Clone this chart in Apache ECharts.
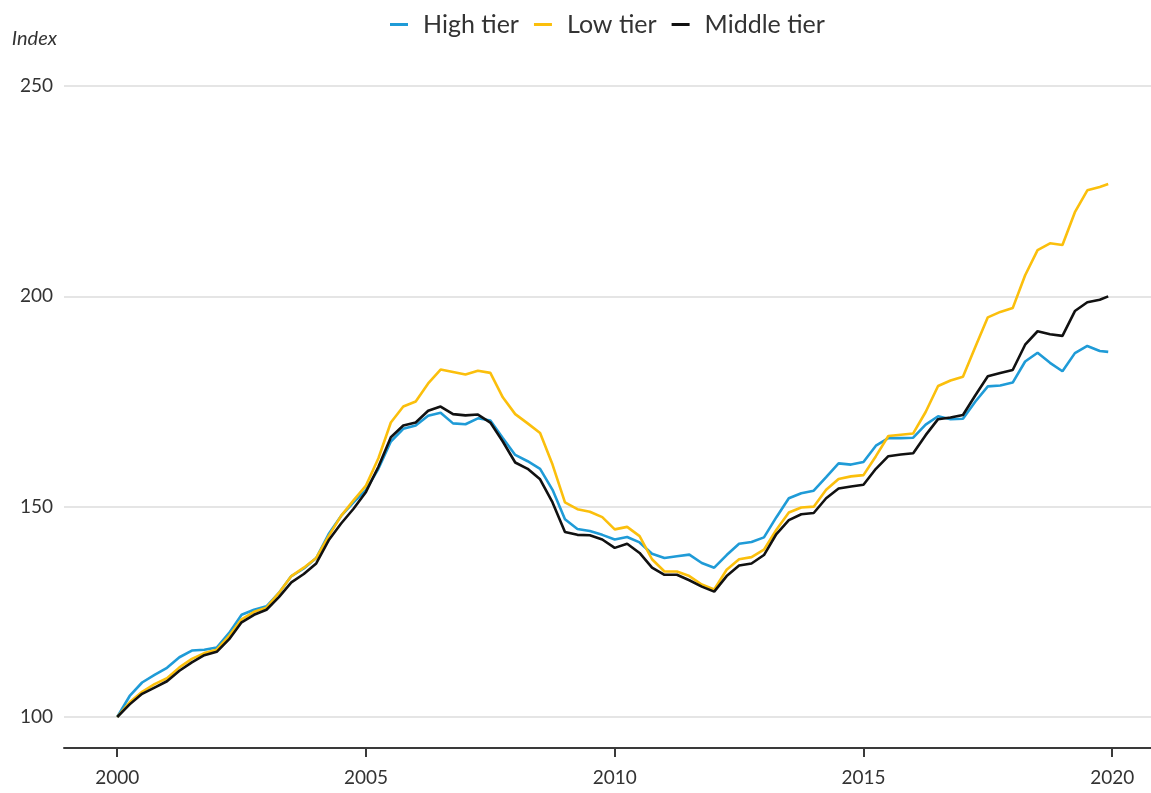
<!DOCTYPE html>
<html>
<head>
<meta charset="utf-8">
<script src="https://cdn.jsdelivr.net/npm/echarts@6/dist/echarts.min.js"></script>
<style>
  html, body { margin: 0; padding: 0; background: #fff; }
  #chart { width: 1151px; height: 793px; }
</style>
</head>
<body>
<div id="chart"></div>
<script>
// quarterly time points (decimal years)
const years = [
  2000.00, 2000.25, 2000.50, 2000.75, 2001.00, 2001.25, 2001.50, 2001.75,
  2002.00, 2002.25, 2002.50, 2002.75, 2003.00, 2003.25, 2003.50, 2003.75,
  2004.00, 2004.25, 2004.50, 2004.75, 2005.00, 2005.25, 2005.50, 2005.75,
  2006.00, 2006.25, 2006.50, 2006.75, 2007.00, 2007.25, 2007.50, 2007.75,
  2008.00, 2008.25, 2008.50, 2008.75, 2009.00, 2009.25, 2009.50, 2009.75,
  2010.00, 2010.25, 2010.50, 2010.75, 2011.00, 2011.25, 2011.50, 2011.75,
  2012.00, 2012.25, 2012.50, 2012.75, 2013.00, 2013.25, 2013.50, 2013.75,
  2014.00, 2014.25, 2014.50, 2014.75, 2015.00, 2015.25, 2015.50, 2015.75,
  2016.00, 2016.25, 2016.50, 2016.75, 2017.00, 2017.25, 2017.50, 2017.75,
  2018.00, 2018.25, 2018.50, 2018.75, 2019.00, 2019.25, 2019.50, 2019.75,
  2019.92
];

const highTier = [
  100, 105, 108.2, 110, 111.7, 114.2, 115.8, 116,
  116.5, 120, 124.3, 125.5, 126.3, 129.5, 133.5, 135.3,
  137.8, 143.5, 147.8, 151, 154, 159, 165.5, 168.5,
  169.3, 171.6, 172.3, 169.8, 169.6, 171, 170.5, 166.3,
  162.3, 160.8, 159, 154, 147, 144.7, 144.2, 143.3,
  142.2, 142.8, 141.5, 138.8, 137.8, 138.2, 138.6, 136.6,
  135.5, 138.5, 141.2, 141.6, 142.7, 147.5, 152, 153.2,
  153.8, 157, 160.3, 160, 160.6, 164.5, 166.3, 166.3,
  166.4, 169.5, 171.5, 170.8, 170.9, 175, 178.6, 178.8,
  179.5, 184.5, 186.6, 184.2, 182.2, 186.5, 188.2, 187,
  186.8
];

const lowTier = [
  100, 103.5, 106, 107.8, 109.2, 111.8, 113.8, 115.2,
  116, 119.3, 123.2, 125, 126, 129.5, 133.5, 135.5,
  137.8, 143, 147.8, 151.5, 155, 161.5, 170, 173.8,
  175, 179.3, 182.6, 182, 181.4, 182.3, 181.8, 176,
  172, 169.8, 167.5, 160, 151, 149.4, 148.8, 147.5,
  144.6, 145.2, 143, 137.5, 134.6, 134.6, 133.5, 131.5,
  130.3, 135, 137.5, 138, 139.8, 144.5, 148.6, 149.8,
  150, 154, 156.6, 157.2, 157.5, 162, 166.8, 167.1,
  167.4, 172.5, 178.7, 180, 180.9, 188, 195, 196.3,
  197.2, 205, 211, 212.6, 212.2, 220, 225.2, 226,
  226.7
];

const middleTier = [
  100, 103, 105.5, 107, 108.5, 111, 113, 114.7,
  115.5, 118.5, 122.5, 124.3, 125.5, 128.5, 132, 134,
  136.5, 142, 146, 149.5, 153.5, 159.5, 166.5, 169.3,
  170, 172.8, 173.8, 172, 171.7, 171.9, 170, 165.5,
  160.5, 159, 156.5, 151, 144, 143.3, 143.2, 142.2,
  140.2, 141.2, 139, 135.5, 133.8, 133.8, 132.5, 131,
  129.8, 133.5, 136, 136.5, 138.5, 143.5, 146.8, 148.2,
  148.5, 152, 154.3, 154.8, 155.2, 159, 162, 162.4,
  162.7, 167, 170.8, 171.2, 171.8, 176.5, 181, 181.8,
  182.5, 188.5, 191.7, 191, 190.6, 196.5, 198.6, 199.2,
  200
];

const xTicks = [2000, 2005, 2010, 2015, 2020];
const seriesNames = ['High tier', 'Low tier', 'Middle tier'];
const seriesColors = ['#1f9bd7', '#fbbf0c', '#111111'];

const chart = echarts.init(document.getElementById('chart'));

const pairs = vals => years.map((y, i) => [y, vals[i]]);

const option = {
  animation: false,
  textStyle: { fontFamily: 'Lato' },
  legend: {
    left: 385,
    top: 7,
    icon: 'rect',
    itemWidth: 18,
    itemHeight: 3,
    itemGap: 15,
    textStyle: { fontSize: 25, color: '#333', padding: [0, 0, 0, 10] },
    data: seriesNames
  },
  grid: { left: 64, right: 0, top: 86, bottom: 76 },
  xAxis: {
    type: 'value',
    min: 1998.93,
    max: 2020.78,
    offset: 31,
    axisLine: { show: true, lineStyle: { color: '#3a3a3a', width: 2 } },
    axisTick: {
      show: true,
      length: 9,
      customValues: xTicks,
      lineStyle: { color: '#3a3a3a', width: 2 }
    },
    axisLabel: {
      customValues: xTicks,
      formatter: v => String(v),
      fontSize: 19,
      color: '#333',
      margin: 20
    },
    splitLine: { show: false }
  },
  yAxis: {
    type: 'value',
    min: 100,
    max: 250,
    interval: 50,
    name: 'Index',
    nameLocation: 'end',
    nameGap: 37,
    nameTextStyle: {
      fontSize: 20,
      fontStyle: 'italic',
      color: '#333',
      align: 'right',
      padding: [0, 7, 0, 0]
    },
    axisLine: { show: false },
    axisTick: { show: false },
    axisLabel: { fontSize: 19, color: '#333', margin: 11 },
    splitLine: { lineStyle: { color: '#dcdcdc', width: 1.5 } }
  },
  series: [highTier, lowTier, middleTier].map((vals, i) => ({
    name: seriesNames[i],
    type: 'line',
    data: pairs(vals),
    showSymbol: false,
    smooth: false,
    lineStyle: { width: 2.6, color: seriesColors[i] },
    itemStyle: { color: seriesColors[i] }
  }))
};

chart.setOption(option);
</script>
</body>
</html>
